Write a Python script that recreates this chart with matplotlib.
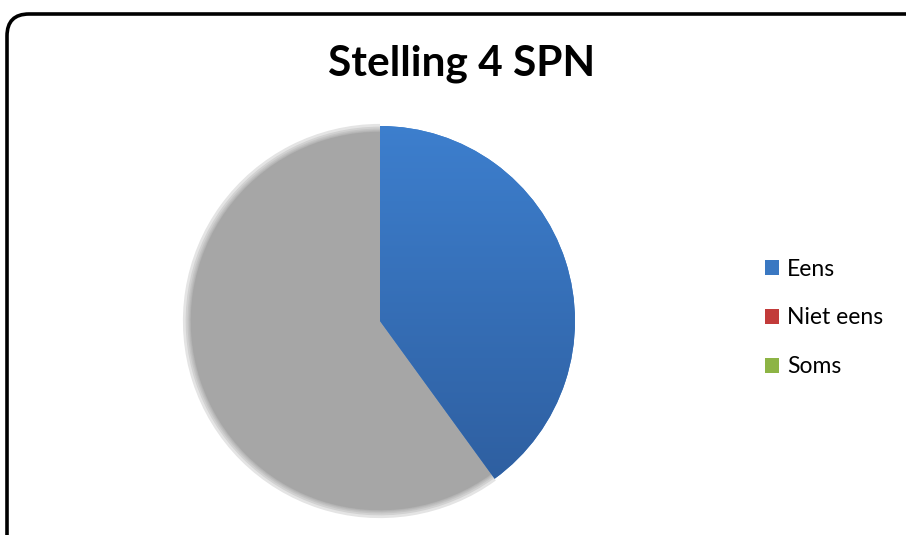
import numpy as np
import matplotlib.pyplot as plt
from matplotlib.patches import Wedge, FancyBboxPatch, Patch
from matplotlib.colors import LinearSegmentedColormap

# stelling 4 - antwoorden SPN
labels = ["Eens", "Niet eens", "Soms", ""]
values = [2, 0, 0, 3]
colors = ["#3B7BC8", "#C0504D", "#9BBB59", "#A6A6A6"]
legend_colors = ["#3A78C2", "#C23B3A", "#8DB445"]

W, H = 906, 535
fig = plt.figure(figsize=(W / 100, H / 100), dpi=100)
ax = fig.add_axes([0, 0, 1, 1])

cx, cy, r = 380, H - 321, 195

wedges, _ = ax.pie(values, colors=colors, startangle=90, counterclock=False,
                   center=(cx, cy), radius=r, frame=True,
                   wedgeprops=dict(linewidth=0))
ax.set_xlim(0, W)
ax.set_ylim(0, H)
ax.set_aspect("equal")
ax.axis("off")

# soft edge on the grey slice: stacked rings so the opacity fades out
grey = wedges[3]
r_in, r_out = r - 7, r + 6
a, n_layers = 0.3, 14
grey.set_radius(r_in + 1)
for n in range(1, n_layers + 1):
    c = 1 - (1 - a) ** n
    rr = r_out - c * (r_out - r_in)
    ax.add_patch(Wedge((cx, cy), rr, grey.theta1, grey.theta2,
                       facecolor=colors[3], edgecolor="none", alpha=a,
                       zorder=0.5))

# vertical gradient on the blue slice
blue = wedges[0]
blue.set_zorder(2)
cmap = LinearSegmentedColormap.from_list("eens", ["#2D5C9C", "#3D7FCE"])
grad = np.linspace(0, 1, 256).reshape(-1, 1)
im = ax.imshow(grad, cmap=cmap, origin="lower", aspect="auto",
               extent=(cx - r, cx + r, cy - r, cy + r + 4), zorder=3)
im.set_clip_path(blue)

# legend
handles = [Patch(facecolor=c, edgecolor="none") for c in legend_colors]
fig.legend(handles, labels[:3], loc="center left",
           bbox_to_anchor=(744 / W, 1 - 318 / H), frameon=False,
           prop=dict(family="Lato", size=16.5), handlelength=0.62,
           handleheight=0.62, handletextpad=0.35, labelspacing=1.22)

fig.text(462 / W, 1 - 64 / H, "Stelling 4 SPN", ha="center", va="center",
         family="Lato", weight="bold", size=30.5)

frame = FancyBboxPatch((7, -30), W + 30, H - 14 + 30,
                       boxstyle="round,pad=0,rounding_size=22",
                       facecolor="none", edgecolor="black", linewidth=2.6,
                       zorder=5)
ax.add_patch(frame)

fig.savefig("out.png", dpi=100)
